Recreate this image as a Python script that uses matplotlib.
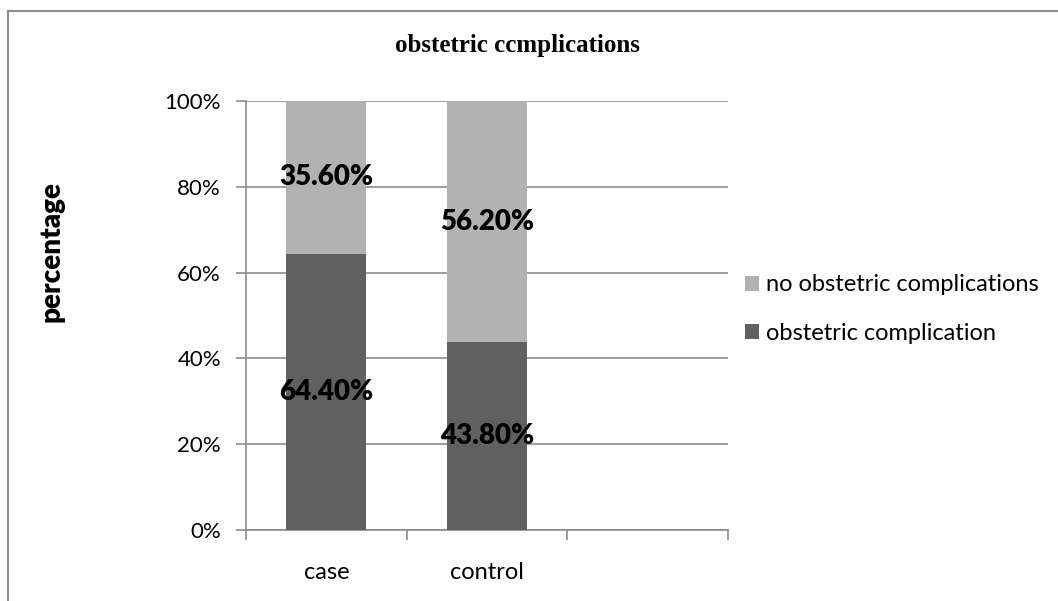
import matplotlib
matplotlib.use("Agg")
import matplotlib.pyplot as plt
from matplotlib.lines import Line2D
from matplotlib.ticker import PercentFormatter

groups = ["case", "control", ""]
complication = [64.4, 43.8, 0]
no_complication = [35.6, 56.2, 0]
yticks = [0, 20, 40, 60, 80, 100]

dark = "#606060"
light = "#b2b2b2"
grid = "#8c8c8c"
sans = ["Lato", "DejaVu Sans"]

fig = plt.figure(figsize=(10.58, 6.01), dpi=100)
ax = fig.add_axes([0.2325, 0.1181, 0.4556, 0.7139])

x = range(len(groups))
b1 = ax.bar(x, complication, width=0.5, color=dark, label="obstetric complication", zorder=3)
b2 = ax.bar(x, no_complication, width=0.5, bottom=complication, color=light,
            label="no obstetric complications", zorder=3)

# value labels, centred in each segment
for i in range(2):
    ax.text(i, complication[i] / 2, f"{complication[i]:.2f}%", ha="center", va="center",
            fontsize=20, fontweight="heavy", family=sans, zorder=4)
    ax.text(i, complication[i] + no_complication[i] / 2, f"{no_complication[i]:.2f}%",
            ha="center", va="center", fontsize=20, fontweight="heavy", family=sans, zorder=4)

ax.set_xlim(-0.5, 2.5)
ax.set_ylim(0, 100)
ax.set_yticks(yticks)
ax.yaxis.set_major_formatter(PercentFormatter(decimals=0))
ax.yaxis.grid(True, color=grid, linewidth=1.2, zorder=0)

ax.set_xticks([0, 1])
ax.set_xticklabels(groups[:2], family=sans, fontsize=17)
ax.set_xticks([-0.5, 0.5, 1.5, 2.5], minor=True)
ax.tick_params(axis="x", which="major", length=0, pad=23)
ax.tick_params(axis="x", which="minor", length=7, color=grid, width=1.2)
ax.tick_params(axis="y", length=7, color=grid, width=1.2, labelsize=16, pad=11)
for lab in ax.get_yticklabels():
    lab.set_family(sans)

for side in ["top", "right"]:
    ax.spines[side].set_visible(False)
for side in ["left", "bottom"]:
    ax.spines[side].set_color(grid)
    ax.spines[side].set_linewidth(1.2)

ax.legend(handles=[b2, b1], loc="center left", bbox_to_anchor=(1.0, 0.515), frameon=False,
          prop={"family": sans, "size": 17}, handlelength=0.6, handleheight=0.6,
          handletextpad=0.3, labelspacing=1.15, borderaxespad=0.3)

fig.text(0.489, 0.925, "obstetric ccmplications", ha="center", va="center",
         family="Liberation Serif", fontweight="bold", fontsize=18)
fig.text(0.049, 0.581, "percentage", rotation=90, ha="center", va="center",
         family=sans, fontweight="heavy", fontsize=20)

# outer frame (left and top edges)
fig.add_artist(Line2D([0.0076, 0.0076], [0, 0.982], color="#8c8c8c", linewidth=1.5))
fig.add_artist(Line2D([0.0076, 1], [0.982, 0.982], color="#8c8c8c", linewidth=1.5))

fig.savefig("out.png", dpi=100)
